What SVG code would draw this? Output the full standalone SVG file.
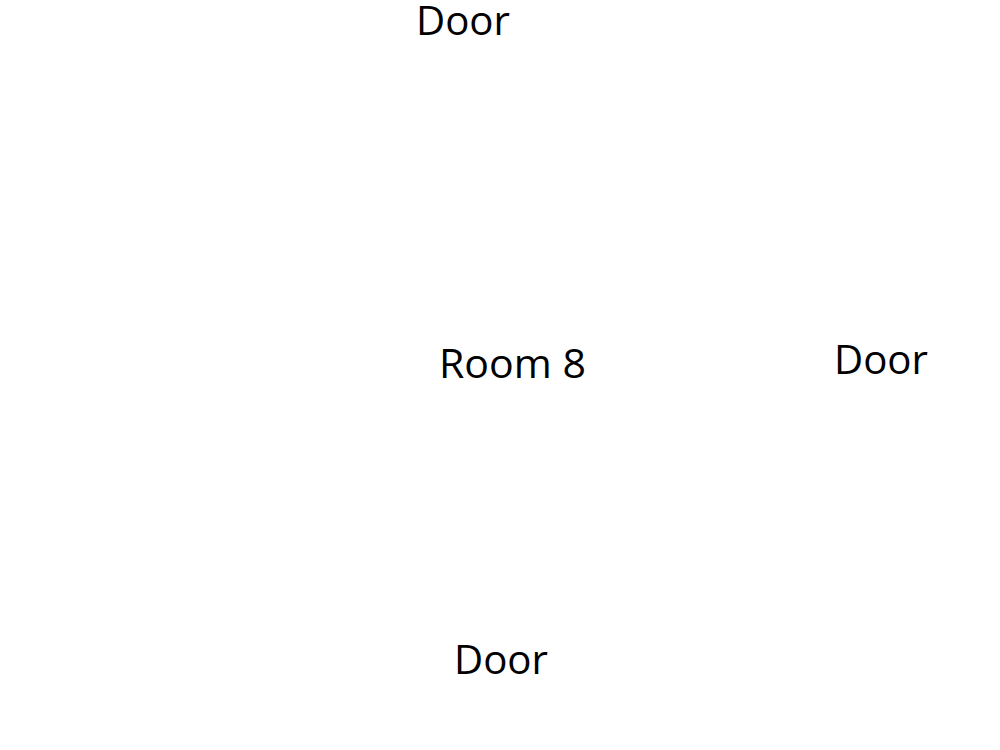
<svg xmlns="http://www.w3.org/2000/svg" width="1000" height="750" viewBox="0 0 1000 750">
<style>
.lbl{font-family:"Open Sans","Noto Sans","Liberation Sans",sans-serif;font-size:41px;fill:#000}
</style>
<rect width="1000" height="750" fill="#fff"/>
<g id="connectors"></g>
<g id="room8"><text class="lbl" x="439" y="378" textLength="147" lengthAdjust="spacingAndGlyphs">Room 8</text></g>
<g id="door-top"><text class="lbl" x="416" y="35" textLength="94" lengthAdjust="spacingAndGlyphs">Door</text></g>
<g id="door-right"><text class="lbl" x="834" y="374" textLength="94" lengthAdjust="spacingAndGlyphs">Door</text></g>
<g id="door-bottom"><text class="lbl" x="454" y="674" textLength="94" lengthAdjust="spacingAndGlyphs">Door</text></g>
</svg>
